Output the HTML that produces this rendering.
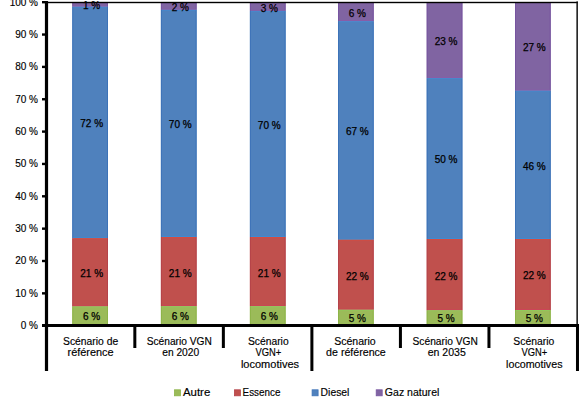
<!DOCTYPE html>
<html><head><meta charset="utf-8"><style>
html,body{margin:0;padding:0;background:#fff;width:580px;height:410px;overflow:hidden;}
svg{display:block;font-family:"Liberation Sans",sans-serif;}
</style></head><body>
<svg width="580" height="410" viewBox="0 0 580 410"><rect x="0" y="0" width="580" height="410" fill="#fff"/><rect x="72.30" y="2.00" width="35.7" height="4.70" fill="#8064A2"/><rect x="72.30" y="6.70" width="35.7" height="231.50" fill="#4F81BD"/><rect x="72.30" y="238.20" width="35.7" height="68.20" fill="#C0504D"/><rect x="72.30" y="306.40" width="35.7" height="18.60" fill="#9BBB59"/><rect x="160.90" y="2.00" width="35.7" height="7.80" fill="#8064A2"/><rect x="160.90" y="9.80" width="35.7" height="227.20" fill="#4F81BD"/><rect x="160.90" y="237.00" width="35.7" height="69.20" fill="#C0504D"/><rect x="160.90" y="306.20" width="35.7" height="18.80" fill="#9BBB59"/><rect x="249.90" y="2.00" width="35.7" height="8.90" fill="#8064A2"/><rect x="249.90" y="10.90" width="35.7" height="226.10" fill="#4F81BD"/><rect x="249.90" y="237.00" width="35.7" height="69.20" fill="#C0504D"/><rect x="249.90" y="306.20" width="35.7" height="18.80" fill="#9BBB59"/><rect x="338.00" y="2.00" width="35.7" height="19.20" fill="#8064A2"/><rect x="338.00" y="21.20" width="35.7" height="218.50" fill="#4F81BD"/><rect x="338.00" y="239.70" width="35.7" height="70.00" fill="#C0504D"/><rect x="338.00" y="309.70" width="35.7" height="15.30" fill="#9BBB59"/><rect x="426.70" y="2.00" width="35.7" height="76.10" fill="#8064A2"/><rect x="426.70" y="78.10" width="35.7" height="160.90" fill="#4F81BD"/><rect x="426.70" y="239.00" width="35.7" height="71.30" fill="#C0504D"/><rect x="426.70" y="310.30" width="35.7" height="14.70" fill="#9BBB59"/><rect x="515.00" y="2.00" width="35.7" height="88.70" fill="#8064A2"/><rect x="515.00" y="90.70" width="35.7" height="148.30" fill="#4F81BD"/><rect x="515.00" y="239.00" width="35.7" height="71.00" fill="#C0504D"/><rect x="515.00" y="310.00" width="35.7" height="15.00" fill="#9BBB59"/><rect x="72.30" y="2.00" width="1" height="4.70" fill="#7754A0"/><rect x="107.00" y="2.00" width="1" height="4.70" fill="#7754A0"/><rect x="72.30" y="6.70" width="1" height="231.50" fill="#3D73B8"/><rect x="107.00" y="6.70" width="1" height="231.50" fill="#3D73B8"/><rect x="72.30" y="238.20" width="1" height="68.20" fill="#B5434A"/><rect x="107.00" y="238.20" width="1" height="68.20" fill="#B5434A"/><rect x="72.30" y="306.40" width="1" height="17.60" fill="#8DB448"/><rect x="107.00" y="306.40" width="1" height="17.60" fill="#8DB448"/><rect x="73.30" y="5.70" width="33.7" height="1" fill="#8A5CA8"/><rect x="73.30" y="6.70" width="33.7" height="1" fill="#4688CC"/><rect x="73.30" y="237.20" width="33.7" height="1" fill="#3E8AD2"/><rect x="73.30" y="238.20" width="33.7" height="1" fill="#D24C42"/><rect x="73.30" y="305.40" width="33.7" height="1" fill="#CC4458"/><rect x="73.30" y="306.40" width="33.7" height="1" fill="#92C85A"/><rect x="160.90" y="2.00" width="1" height="7.80" fill="#7754A0"/><rect x="195.60" y="2.00" width="1" height="7.80" fill="#7754A0"/><rect x="160.90" y="9.80" width="1" height="227.20" fill="#3D73B8"/><rect x="195.60" y="9.80" width="1" height="227.20" fill="#3D73B8"/><rect x="160.90" y="237.00" width="1" height="69.20" fill="#B5434A"/><rect x="195.60" y="237.00" width="1" height="69.20" fill="#B5434A"/><rect x="160.90" y="306.20" width="1" height="17.80" fill="#8DB448"/><rect x="195.60" y="306.20" width="1" height="17.80" fill="#8DB448"/><rect x="161.90" y="8.80" width="33.7" height="1" fill="#8A5CA8"/><rect x="161.90" y="9.80" width="33.7" height="1" fill="#4688CC"/><rect x="161.90" y="236.00" width="33.7" height="1" fill="#3E8AD2"/><rect x="161.90" y="237.00" width="33.7" height="1" fill="#D24C42"/><rect x="161.90" y="305.20" width="33.7" height="1" fill="#CC4458"/><rect x="161.90" y="306.20" width="33.7" height="1" fill="#92C85A"/><rect x="249.90" y="2.00" width="1" height="8.90" fill="#7754A0"/><rect x="284.60" y="2.00" width="1" height="8.90" fill="#7754A0"/><rect x="249.90" y="10.90" width="1" height="226.10" fill="#3D73B8"/><rect x="284.60" y="10.90" width="1" height="226.10" fill="#3D73B8"/><rect x="249.90" y="237.00" width="1" height="69.20" fill="#B5434A"/><rect x="284.60" y="237.00" width="1" height="69.20" fill="#B5434A"/><rect x="249.90" y="306.20" width="1" height="17.80" fill="#8DB448"/><rect x="284.60" y="306.20" width="1" height="17.80" fill="#8DB448"/><rect x="250.90" y="9.90" width="33.7" height="1" fill="#8A5CA8"/><rect x="250.90" y="10.90" width="33.7" height="1" fill="#4688CC"/><rect x="250.90" y="236.00" width="33.7" height="1" fill="#3E8AD2"/><rect x="250.90" y="237.00" width="33.7" height="1" fill="#D24C42"/><rect x="250.90" y="305.20" width="33.7" height="1" fill="#CC4458"/><rect x="250.90" y="306.20" width="33.7" height="1" fill="#92C85A"/><rect x="338.00" y="2.00" width="1" height="19.20" fill="#7754A0"/><rect x="372.70" y="2.00" width="1" height="19.20" fill="#7754A0"/><rect x="338.00" y="21.20" width="1" height="218.50" fill="#3D73B8"/><rect x="372.70" y="21.20" width="1" height="218.50" fill="#3D73B8"/><rect x="338.00" y="239.70" width="1" height="70.00" fill="#B5434A"/><rect x="372.70" y="239.70" width="1" height="70.00" fill="#B5434A"/><rect x="338.00" y="309.70" width="1" height="14.30" fill="#8DB448"/><rect x="372.70" y="309.70" width="1" height="14.30" fill="#8DB448"/><rect x="339.00" y="20.20" width="33.7" height="1" fill="#8A5CA8"/><rect x="339.00" y="21.20" width="33.7" height="1" fill="#4688CC"/><rect x="339.00" y="238.70" width="33.7" height="1" fill="#3E8AD2"/><rect x="339.00" y="239.70" width="33.7" height="1" fill="#D24C42"/><rect x="339.00" y="308.70" width="33.7" height="1" fill="#CC4458"/><rect x="339.00" y="309.70" width="33.7" height="1" fill="#92C85A"/><rect x="426.70" y="2.00" width="1" height="76.10" fill="#7754A0"/><rect x="461.40" y="2.00" width="1" height="76.10" fill="#7754A0"/><rect x="426.70" y="78.10" width="1" height="160.90" fill="#3D73B8"/><rect x="461.40" y="78.10" width="1" height="160.90" fill="#3D73B8"/><rect x="426.70" y="239.00" width="1" height="71.30" fill="#B5434A"/><rect x="461.40" y="239.00" width="1" height="71.30" fill="#B5434A"/><rect x="426.70" y="310.30" width="1" height="13.70" fill="#8DB448"/><rect x="461.40" y="310.30" width="1" height="13.70" fill="#8DB448"/><rect x="427.70" y="77.10" width="33.7" height="1" fill="#8A5CA8"/><rect x="427.70" y="78.10" width="33.7" height="1" fill="#4688CC"/><rect x="427.70" y="238.00" width="33.7" height="1" fill="#3E8AD2"/><rect x="427.70" y="239.00" width="33.7" height="1" fill="#D24C42"/><rect x="427.70" y="309.30" width="33.7" height="1" fill="#CC4458"/><rect x="427.70" y="310.30" width="33.7" height="1" fill="#92C85A"/><rect x="515.00" y="2.00" width="1" height="88.70" fill="#7754A0"/><rect x="549.70" y="2.00" width="1" height="88.70" fill="#7754A0"/><rect x="515.00" y="90.70" width="1" height="148.30" fill="#3D73B8"/><rect x="549.70" y="90.70" width="1" height="148.30" fill="#3D73B8"/><rect x="515.00" y="239.00" width="1" height="71.00" fill="#B5434A"/><rect x="549.70" y="239.00" width="1" height="71.00" fill="#B5434A"/><rect x="515.00" y="310.00" width="1" height="14.00" fill="#8DB448"/><rect x="549.70" y="310.00" width="1" height="14.00" fill="#8DB448"/><rect x="516.00" y="89.70" width="33.7" height="1" fill="#8A5CA8"/><rect x="516.00" y="90.70" width="33.7" height="1" fill="#4688CC"/><rect x="516.00" y="238.00" width="33.7" height="1" fill="#3E8AD2"/><rect x="516.00" y="239.00" width="33.7" height="1" fill="#D24C42"/><rect x="516.00" y="309.00" width="33.7" height="1" fill="#CC4458"/><rect x="516.00" y="310.00" width="33.7" height="1" fill="#92C85A"/><rect x="46" y="1.8" width="531.90" height="1.4" fill="#000"/><rect x="576.4" y="1.4" width="1.5" height="322.60" fill="#111"/><rect x="44.9" y="1" width="3.2" height="370" fill="#000"/><rect x="42" y="324.50" width="3.5" height="2.4" fill="#000"/><rect x="42" y="292.15" width="3.5" height="2.4" fill="#000"/><rect x="42" y="259.80" width="3.5" height="2.4" fill="#000"/><rect x="42" y="227.45" width="3.5" height="2.4" fill="#000"/><rect x="42" y="195.10" width="3.5" height="2.4" fill="#000"/><rect x="42" y="162.75" width="3.5" height="2.4" fill="#000"/><rect x="42" y="130.40" width="3.5" height="2.4" fill="#000"/><rect x="42" y="98.05" width="3.5" height="2.4" fill="#000"/><rect x="42" y="65.70" width="3.5" height="2.4" fill="#000"/><rect x="42" y="33.35" width="3.5" height="2.4" fill="#000"/><rect x="42" y="1.00" width="3.5" height="2.4" fill="#000"/><rect x="42" y="324.0" width="537" height="3.0" fill="#000"/><rect x="133.33" y="324.0" width="3" height="24.00" fill="#000"/><rect x="221.86" y="324.0" width="3" height="24.00" fill="#000"/><rect x="310.39" y="324.0" width="3" height="47.00" fill="#000"/><rect x="398.92" y="324.0" width="3" height="24.00" fill="#000"/><rect x="487.45" y="324.0" width="3" height="24.00" fill="#000"/><rect x="575.98" y="324.0" width="3" height="47.00" fill="#000"/><rect x="174.5" y="389.8" width="6.0" height="6.0" fill="#9BBB59" stroke="#8DB448" stroke-width="0.8"/><rect x="234.4" y="389.8" width="6.0" height="6.0" fill="#C0504D" stroke="#B5434A" stroke-width="0.8"/><rect x="312.09999999999997" y="389.8" width="6.0" height="6.0" fill="#4F81BD" stroke="#3D73B8" stroke-width="0.8"/><rect x="376.2" y="389.8" width="6.0" height="6.0" fill="#8064A2" stroke="#7754A0" stroke-width="0.8"/><g font-family="Liberation Sans, sans-serif" font-size="10" fill="#000" stroke="#000" stroke-width="0.15"><text x="38.00" y="329.10" text-anchor="end">0 %</text><text x="38.00" y="296.75" text-anchor="end">10 %</text><text x="38.00" y="264.40" text-anchor="end">20 %</text><text x="38.00" y="232.05" text-anchor="end">30 %</text><text x="38.00" y="199.70" text-anchor="end">40 %</text><text x="38.00" y="167.35" text-anchor="end">50 %</text><text x="38.00" y="135.00" text-anchor="end">60 %</text><text x="38.00" y="102.65" text-anchor="end">70 %</text><text x="38.00" y="70.30" text-anchor="end">80 %</text><text x="38.00" y="37.95" text-anchor="end">90 %</text><text x="38.00" y="5.60" text-anchor="end">100 %</text><text x="91.65" y="320.10" text-anchor="middle" stroke-width="0.25">6 %</text><text x="91.65" y="277.20" text-anchor="middle" stroke-width="0.25">21 %</text><text x="91.65" y="127.35" text-anchor="middle" stroke-width="0.25">72 %</text><text x="91.65" y="8.60" text-anchor="middle" stroke-width="0.25">1 %</text><text x="180.25" y="320.00" text-anchor="middle" stroke-width="0.25">6 %</text><text x="180.25" y="276.50" text-anchor="middle" stroke-width="0.25">21 %</text><text x="180.25" y="128.30" text-anchor="middle" stroke-width="0.25">70 %</text><text x="180.25" y="10.50" text-anchor="middle" stroke-width="0.25">2 %</text><text x="269.25" y="320.00" text-anchor="middle" stroke-width="0.25">6 %</text><text x="269.25" y="276.50" text-anchor="middle" stroke-width="0.25">21 %</text><text x="269.25" y="128.85" text-anchor="middle" stroke-width="0.25">70 %</text><text x="269.25" y="11.80" text-anchor="middle" stroke-width="0.25">3 %</text><text x="357.35" y="321.75" text-anchor="middle" stroke-width="0.25">5 %</text><text x="357.35" y="279.60" text-anchor="middle" stroke-width="0.25">22 %</text><text x="357.35" y="135.35" text-anchor="middle" stroke-width="0.25">67 %</text><text x="357.35" y="16.50" text-anchor="middle" stroke-width="0.25">6 %</text><text x="446.05" y="322.05" text-anchor="middle" stroke-width="0.25">5 %</text><text x="446.05" y="279.55" text-anchor="middle" stroke-width="0.25">22 %</text><text x="446.05" y="163.45" text-anchor="middle" stroke-width="0.25">50 %</text><text x="446.05" y="44.95" text-anchor="middle" stroke-width="0.25">23 %</text><text x="534.35" y="321.90" text-anchor="middle" stroke-width="0.25">5 %</text><text x="534.35" y="279.40" text-anchor="middle" stroke-width="0.25">22 %</text><text x="534.35" y="169.75" text-anchor="middle" stroke-width="0.25">46 %</text><text x="534.35" y="51.25" text-anchor="middle" stroke-width="0.25">27 %</text><text x="90.60" y="344.50" text-anchor="middle" textLength="55.17" lengthAdjust="spacingAndGlyphs">Scénario de</text><text x="90.60" y="356.00" text-anchor="middle" textLength="46.05" lengthAdjust="spacingAndGlyphs">référence</text><text x="179.30" y="344.50" text-anchor="middle" textLength="65.12" lengthAdjust="spacingAndGlyphs">Scénario VGN</text><text x="180.70" y="356.00" text-anchor="middle" textLength="36.96" lengthAdjust="spacingAndGlyphs">en 2020</text><text x="268.30" y="344.50" text-anchor="middle" textLength="40.67" lengthAdjust="spacingAndGlyphs">Scénario</text><text x="268.45" y="356.00" text-anchor="middle" textLength="25.82" lengthAdjust="spacingAndGlyphs">VGN+</text><text x="270.00" y="367.50" text-anchor="middle" textLength="58.21" lengthAdjust="spacingAndGlyphs">locomotives</text><text x="354.95" y="344.50" text-anchor="middle" textLength="41.57" lengthAdjust="spacingAndGlyphs">Scénario</text><text x="355.95" y="356.00" text-anchor="middle" textLength="59.66" lengthAdjust="spacingAndGlyphs">de référence</text><text x="445.20" y="344.50" text-anchor="middle" textLength="65.32" lengthAdjust="spacingAndGlyphs">Scénario VGN</text><text x="446.75" y="356.00" text-anchor="middle" textLength="38.06" lengthAdjust="spacingAndGlyphs">en 2035</text><text x="533.80" y="344.50" text-anchor="middle" textLength="40.87" lengthAdjust="spacingAndGlyphs">Scénario</text><text x="534.30" y="356.00" text-anchor="middle" textLength="25.72" lengthAdjust="spacingAndGlyphs">VGN+</text><text x="534.30" y="367.50" text-anchor="middle" textLength="56.41" lengthAdjust="spacingAndGlyphs">locomotives</text><text x="196.60" y="396.00" text-anchor="middle" textLength="27.31" lengthAdjust="spacingAndGlyphs">Autre</text><text x="261.50" y="396.00" text-anchor="middle" textLength="37.76" lengthAdjust="spacingAndGlyphs">Essence</text><text x="335.00" y="396.00" text-anchor="middle" textLength="28.80" lengthAdjust="spacingAndGlyphs">Diesel</text><text x="412.10" y="396.00" text-anchor="middle" textLength="54.50" lengthAdjust="spacingAndGlyphs">Gaz naturel</text></g></svg>
</body></html>
